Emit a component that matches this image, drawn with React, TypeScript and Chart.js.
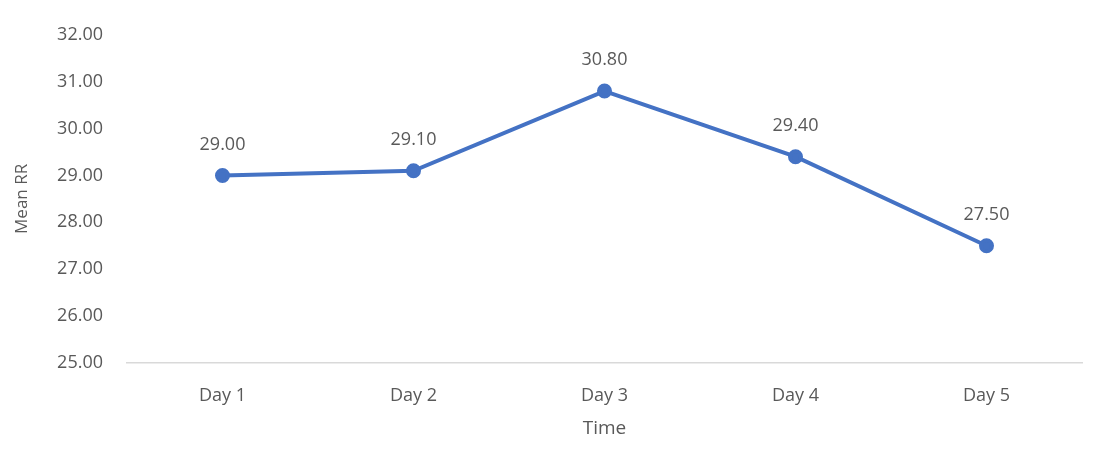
import React, { useEffect, useRef } from "react";
import { Chart, registerables } from "chart.js";

Chart.register(...registerables);

const days = ["Day 1", "Day 2", "Day 3", "Day 4", "Day 5"];
const meanRR = [29.0, 29.1, 30.8, 29.4, 27.5];

const yMin = 25;
const yMax = 32;
const yStep = 1;

const textColor = "#595959";
const lineColor = "#4472C4";
const fontFamily = "'Open Sans', 'Noto Sans', sans-serif";

// Writes each point's value above its marker
const valueLabels = {
  id: "valueLabels",
  afterDatasetsDraw(chart: any) {
    const ctx = chart.ctx;
    const meta = chart.getDatasetMeta(0);
    ctx.save();
    ctx.font = `18px ${fontFamily}`;
    ctx.fillStyle = textColor;
    ctx.textAlign = "center";
    ctx.textBaseline = "middle";
    meta.data.forEach((pt: any, i: number) => {
      const v = chart.data.datasets[0].data[i] as number;
      ctx.fillText(v.toFixed(2), pt.x, pt.y - 31);
    });
    ctx.restore();
  },
};

export default function App() {
  const canvasRef = useRef<HTMLCanvasElement | null>(null);

  useEffect(() => {
    if (!canvasRef.current) return;
    const chart = new Chart(canvasRef.current, {
      type: "line",
      data: {
        labels: days,
        datasets: [
          {
            label: "Mean RR",
            data: meanRR,
            borderColor: lineColor,
            backgroundColor: lineColor,
            borderWidth: 4,
            pointRadius: 5.5,
            pointBackgroundColor: lineColor,
            pointBorderColor: lineColor,
            tension: 0,
          },
        ],
      },
      options: {
        animation: false,
        responsive: true,
        maintainAspectRatio: false,
        layout: { padding: { top: 33, right: 20, bottom: 24, left: 0 } },
        plugins: {
          legend: { display: false },
          tooltip: { enabled: false },
        },
        scales: {
          x: {
            offset: true,
            grid: { display: false, drawTicks: false },
            border: { display: true, color: "#d9d9d9", width: 1.5 },
            ticks: {
              color: textColor,
              font: { family: fontFamily, size: 18 },
              padding: 22,
            },
            title: {
              display: true,
              text: "Time",
              color: textColor,
              font: { family: fontFamily, size: 19 },
              padding: { top: 6, bottom: 0 },
            },
            afterFit(scale: any) {
              scale.height = 77;
            },
          },
          y: {
            min: yMin,
            max: yMax,
            grid: { display: false, drawTicks: false },
            border: { display: false },
            ticks: {
              stepSize: yStep,
              color: textColor,
              font: { family: fontFamily, size: 18 },
              padding: 24,
              callback: (v: any) => Number(v).toFixed(2),
            },
            title: {
              display: true,
              text: "Mean RR",
              color: textColor,
              font: { family: fontFamily, size: 17 },
              padding: { top: 12, bottom: 0 },
            },
            afterFit(scale: any) {
              scale.width = 127;
            },
          },
        },
      },
      plugins: [valueLabels],
    });
    return () => chart.destroy();
  }, []);

  return (
    <div style={{ position: "fixed", left: 0, top: 0, width: 1102, height: 464, background: "#fff" }}>
      <canvas ref={canvasRef} />
    </div>
  );
}
